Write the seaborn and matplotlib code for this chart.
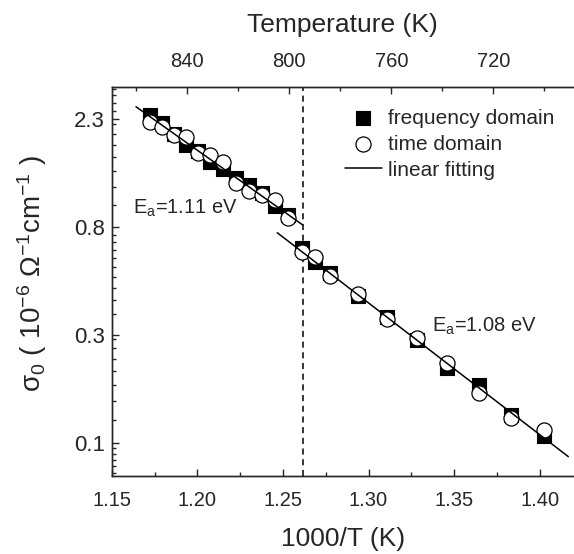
import numpy as np
import pandas as pd
import matplotlib
matplotlib.use("Agg")
import matplotlib.pyplot as plt
import seaborn as sns
from matplotlib.ticker import FixedLocator, NullFormatter

# ---------------- data ----------------
inv_T = [1.1724, 1.1792, 1.1862, 1.1933, 1.2004, 1.2077, 1.2150, 1.2224,
         1.2300, 1.2376, 1.2453, 1.2531,
         1.2612, 1.2688, 1.2775, 1.2939, 1.3108, 1.3283, 1.3459, 1.3646,
         1.3833, 1.4025]
sigma_freq = [2.400, 2.215, 1.997, 1.795, 1.693, 1.522, 1.423, 1.304,
              1.218, 1.127, 0.994, 0.911,
              0.660, 0.579, 0.521, 0.416, 0.338, 0.271, 0.206, 0.175,
              0.131, 0.107]
sigma_time = [2.249, 2.143, 1.977, 1.940, 1.661, 1.629, 1.522, 1.242,
              1.144, 1.106, 1.058, 0.885,
              0.638, 0.605, 0.504, 0.424, 0.332, 0.276, 0.218, 0.163,
              0.128, 0.113]
fit1_x = [1.1642, 1.2616]
fit1_y = [2.60, 0.827]
fit2_x = [1.2467, 1.4167]
fit2_y = [0.767, 0.0876]
transition_x = 1.2616
xtick_values = [1.15, 1.20, 1.25, 1.30, 1.35, 1.40]
ytick_labels = ["0.1", "0.3", "0.8", "2.3"]
temp_ticks = [840, 800, 760, 720]
temp_minor = [860, 820, 780, 740, 700]
label_low = r"E$_\mathrm{a}$=1.11 eV"
label_high = r"E$_\mathrm{a}$=1.08 eV"

df = pd.DataFrame({"x": inv_T, "freq": sigma_freq, "time": sigma_time})

# ---------------- style ----------------
sns.set_style("ticks")
plt.rcParams["font.family"] = ["Liberation Sans", "DejaVu Sans"]
plt.rcParams["mathtext.fontset"] = "custom"
plt.rcParams["mathtext.rm"] = "Liberation Sans"
plt.rcParams["mathtext.it"] = "Liberation Sans:italic"
plt.rcParams["mathtext.bf"] = "Liberation Sans:bold"
plt.rcParams["axes.linewidth"] = 1.0

fig = plt.figure(figsize=(5.74, 5.54), dpi=100)
ax = fig.add_axes([0.1946, 0.1408, 0.8054, 0.7027])

ax.set_yscale("log")

sns.scatterplot(data=df, x="x", y="freq", marker="s", s=100, color="black",
                edgecolor="black", linewidth=0.8, ax=ax, zorder=2,
                label="frequency domain", legend=False)
sns.scatterplot(data=df, x="x", y="time", marker="o", s=118, color="white",
                edgecolor="black", linewidth=0.9, ax=ax, zorder=3,
                label="time domain", legend=False)
sns.lineplot(x=fit1_x, y=fit1_y, color="black", lw=1.1, ax=ax, zorder=4,
             label="linear fitting", legend=False)
sns.lineplot(x=fit2_x, y=fit2_y, color="black", lw=1.1, ax=ax, zorder=4,
             legend=False)
ax.axvline(transition_x, color="black", lw=1.1, ls=(0, (4, 3)), zorder=1)

# ---------------- axes ----------------
ax.set_xlim(1.15, 1.42)
step = 1.045
y0 = 0.1
major_y = [y0 * np.exp(step * i) for i in range(len(ytick_labels))]
ax.set_ylim(y0 * np.exp(-0.3198), y0 * np.exp(3.4525))
ax.yaxis.set_major_locator(FixedLocator(major_y))
ax.set_yticklabels(ytick_labels)
minor_y = ([0.075, 0.08, 0.085, 0.09, 0.095] +
           list(np.arange(0.125, 0.28, 0.025)) +
           list(np.arange(0.35, 0.80, 0.05)) +
           list(np.arange(1.0, 2.25, 0.2)) + [2.5, 2.7, 2.9, 3.1])
ax.yaxis.set_minor_locator(FixedLocator(minor_y))
ax.yaxis.set_minor_formatter(NullFormatter())

ax.set_xticks(xtick_values)
ax.set_xticklabels([f"{v:.2f}" for v in xtick_values])
ax.xaxis.set_minor_locator(FixedLocator(np.arange(1.175, 1.42, 0.05)))

ax.tick_params(which="major", direction="in", length=5, width=1,
               top=False, right=False)
ax.tick_params(axis="x", which="major", pad=11, labelsize=14.5)
ax.tick_params(axis="y", which="major", pad=5, labelsize=16)
ax.tick_params(which="minor", direction="in", length=3, width=1,
               top=False, right=False)
ax.spines["right"].set_visible(False)

ax.set_xlabel("1000/T (K)", fontsize=19, labelpad=12)
ax.set_ylabel(r"$\mathrm{σ_0}$ ( 10$^{\mathrm{-6}}$ $\mathrm{Ω^{-1}}$cm$^{\mathrm{-1}}$ )",
              fontsize=20)
ax.yaxis.set_label_coords(-0.135, 0.52)

ax2 = ax.twiny()
ax2.set_xlim(869.6, 688.4)
ax2.set_xticks(temp_ticks)
ax2.xaxis.set_minor_locator(FixedLocator(temp_minor))
ax2.tick_params(which="major", direction="in", length=5, width=1,
                labelsize=14.5, pad=11)
ax2.tick_params(which="minor", direction="in", length=3, width=1)
ax2.spines["right"].set_visible(False)
ax2.set_xlabel("Temperature (K)", fontsize=19, labelpad=15)

# ---------------- annotations ----------------
ax.text(1.1624, 0.975, label_low, fontsize=14.5, ha="left", va="center")
ax.text(1.3371, 0.3100, label_high, fontsize=14.5, ha="left", va="center")

h, l = ax.get_legend_handles_labels()
order = [l.index("frequency domain"), l.index("time domain"), l.index("linear fitting")]
ax.legend([h[i] for i in order], [l[i] for i in order], loc="upper left",
          bbox_to_anchor=(0.505, 0.943), frameon=False, fontsize=15,
          handlelength=1.75, handletextpad=0.3, labelspacing=0.33,
          borderpad=0, borderaxespad=0)

fig.savefig("out.png", dpi=100)
